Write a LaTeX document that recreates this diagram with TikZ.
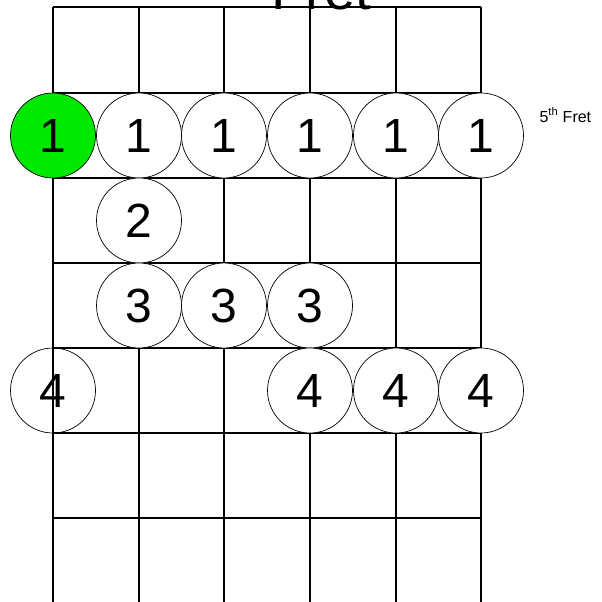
\documentclass[tikz,border=0pt]{standalone}
\usepackage{fontspec}
\setmainfont{Liberation Sans}
\definecolor{rootgreen}{RGB}{0,232,0}
\begin{document}
\begin{tikzpicture}[x=1pt,y=-1pt,
  grid/.style={line width=1.1pt, draw=black},
  dot/.style={circle, draw=black, line width=0.7pt, fill=white, minimum size=85pt, inner sep=0pt, font=\fontsize{48}{48}\selectfont},
  rootdot/.style={dot, fill=rootgreen}]
\useasboundingbox (0,0) rectangle (602,602);
% strings
\foreach \x [count=\i] in {53,139,224,310,396,481}
  \draw[grid] (\x,7) -- (\x,602);
% frets
\foreach \y in {7,93,178,263,348,433,518}
  \draw[grid] (53,\y) -- (481,\y);
\node[font=\fontsize{56}{56}\selectfont, anchor=base] (title) at (321,10) {Fret};
\node[font=\fontsize{16}{16}\selectfont, anchor=base west] (fretlbl) at (536,122) {5\textsuperscript{th} Fret};
% row 1
\node[rootdot] (a1) at (53,135.5) {1};
\node[dot] (a2) at (139,135.5) {1};
\node[dot] (a3) at (224,135.5) {1};
\node[dot] (a4) at (310,135.5) {1};
\node[dot] (a5) at (396,135.5) {1};
\node[dot] (a6) at (481,135.5) {1};
% row 2
\node[dot] (b2) at (139,220.5) {2};
% row 3
\node[dot] (c2) at (139,305.5) {3};
\node[dot] (c3) at (224,305.5) {3};
\node[dot] (c4) at (310,305.5) {3};
% row 4
\node[dot, fill=none] (d1) at (53,390.5) {4};
\node[dot] (d4) at (310,390.5) {4};
\node[dot] (d5) at (396,390.5) {4};
\node[dot] (d6) at (481,390.5) {4};
\end{tikzpicture}
\end{document}
